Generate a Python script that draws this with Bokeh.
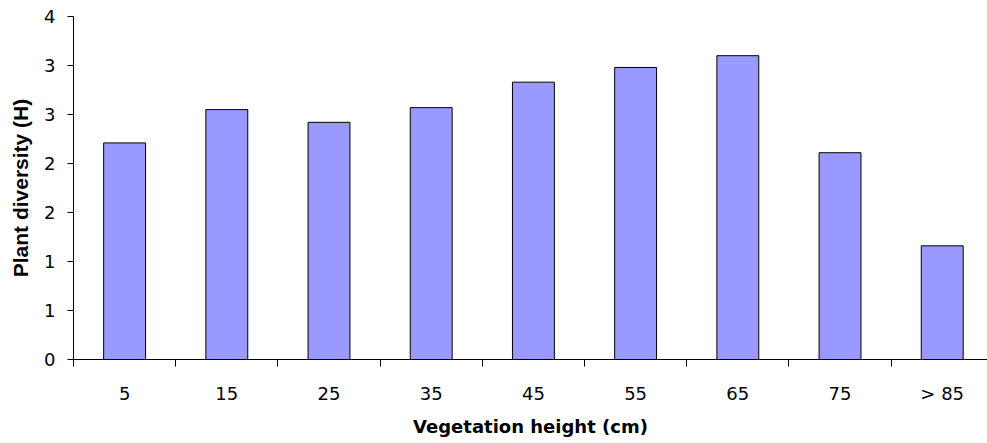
from bokeh.plotting import figure
from bokeh.models import Range1d, FixedTicker, ColumnDataSource
from bokeh.embed import file_html
from bokeh.resources import INLINE

categories = ["5", "15", "25", "35", "45", "55", "65", "75", "> 85"]
diversity = [2.21, 2.55, 2.42, 2.57, 2.83, 2.98, 3.10, 2.11, 1.16]
y_ticks = [0, 0.5, 1.0, 1.5, 2.0, 2.5, 3.0, 3.5]
y_tick_labels = ["0", "1", "1", "2", "2", "3", "3", "4"]

n = len(categories)
centers = [i + 0.5 for i in range(n)]
source = ColumnDataSource(dict(x=centers, top=diversity, cat=categories))

p = figure(width=987, height=443, output_backend="svg", toolbar_location=None,
           x_range=Range1d(0, 8.943), y_range=Range1d(0, 3.5),
           min_border_left=73, min_border_right=0, min_border_top=16, min_border_bottom=84)
p.outline_line_color = None
p.xgrid.visible = False
p.ygrid.visible = False
p.background_fill_color = "white"
p.border_fill_color = "white"

p.vbar(x="x", top="top", width=0.41, source=source,
       fill_color="#9999FF", line_color="black", line_width=1)

TICK_FONT = "DejaVu Sans"

xa = p.xaxis[0]
xa.ticker = FixedTicker(ticks=centers, minor_ticks=list(range(n)))
xa.major_label_overrides = {c: lab for c, lab in zip(centers, categories)}
xa.major_tick_out = 0
xa.major_tick_in = 0
xa.minor_tick_out = 7
xa.minor_tick_in = 0
xa.minor_tick_line_color = "black"
xa.axis_line_color = "black"
xa.major_label_text_font = TICK_FONT
xa.major_label_text_font_size = "18px"
xa.major_label_text_color = "black"
xa.major_label_standoff = 16
xa.axis_label = "Vegetation height (cm)"
xa.axis_label_text_font = "DejaVu Sans"
xa.axis_label_text_font_size = "18px"
xa.axis_label_text_font_style = "bold"
xa.axis_label_text_color = "black"
xa.axis_label_standoff = 9

ya = p.yaxis[0]
ya.ticker = FixedTicker(ticks=y_ticks, minor_ticks=[])
ya.major_label_overrides = {t: lab for t, lab in zip(y_ticks, y_tick_labels)}
ya.major_tick_out = 6
ya.major_tick_in = 0
ya.major_tick_line_color = "black"
ya.axis_line_color = "black"
ya.major_label_text_font = TICK_FONT
ya.major_label_text_font_size = "18px"
ya.major_label_text_color = "black"
ya.major_label_standoff = 12
ya.axis_label = "Plant diversity (H)"
ya.axis_label_text_font = "Liberation Sans"
ya.axis_label_text_font_size = "21px"
ya.axis_label_text_font_style = "bold"
ya.axis_label_text_color = "black"
ya.axis_label_standoff = 9

open("out.html", "w").write(file_html(p, INLINE))
